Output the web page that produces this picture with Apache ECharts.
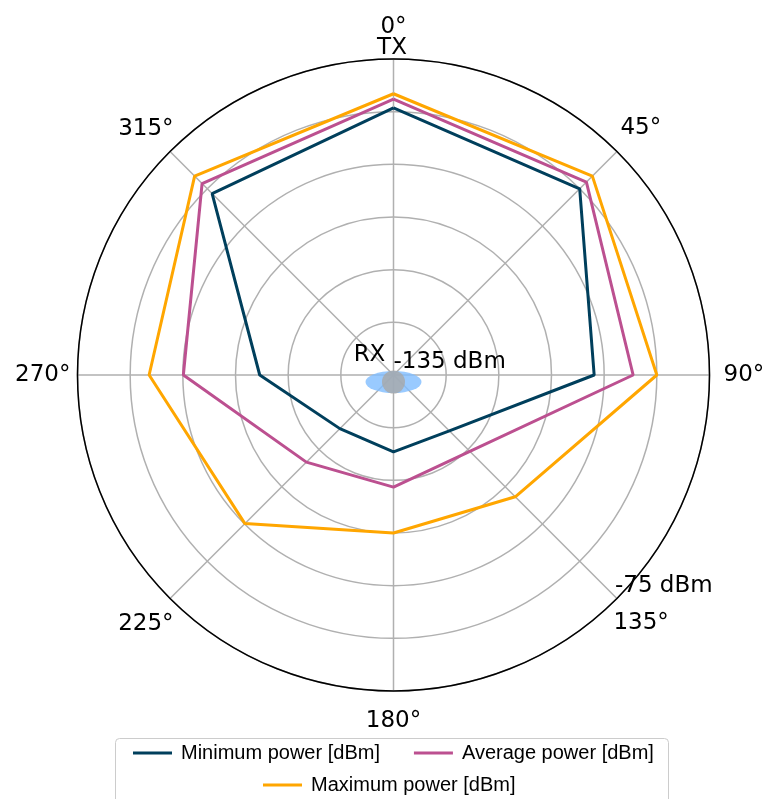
<!DOCTYPE html>
<html>
<head>
<meta charset="utf-8">
<script src="https://cdn.jsdelivr.net/npm/echarts@6/dist/echarts.min.js"></script>
<style>
    html, body { margin: 0; padding: 0; background: #fff; }
    #chart { width: 765px; height: 799px; }
</style>
</head>
<body>
<div id="chart"></div>
<script>
// Directions (degrees, clockwise from TX at the top)
var angles = [0, 45, 90, 135, 180, 225, 270, 315];
var angleTicks = ["0°", "45°", "90°", "135°", "180°", "225°", "270°", "315°"];

// Received power per direction [dBm]
var minPower = [-84.3, -85.0, -96.9, -120.0, -120.4, -120.6, -109.6, -86.3];
var avgPower = [-82.6, -83.2, -89.5, -114.5, -113.7, -111.6, -95.1, -83.6];
var maxPower = [-81.6, -81.6, -85.0, -102.3, -105.0, -95.1, -88.6, -81.6];

var seriesNames = ["Minimum power [dBm]", "Average power [dBm]", "Maximum power [dBm]"];
var seriesColors = ["#003f5c", "#bc5090", "#ffa600"];

// Radial scale
var radiusMin = -135;
var radiusMax = -75;
var radiusStep = 10;
var radiusLabels = ["-135 dBm", "-75 dBm"];

var tickFont = "DejaVu Sans";

/**
 * Turns one list of values into a closed polygon of [radius, angle] pairs.
 */
function closedRing(values) {
    var ring = angles.map(function (a, i) { return [values[i], a]; });
    ring.push([values[0], 360]);
    return ring;
}

// Extra padding to push each angle label out to where matplotlib put it
// (vertical padding only moves the text by half its size)
var labelPads = {
    0: [0, 0, 51, 0],
    45: [0, 0, 32, 7],
    90: [0, 0, 0, 19],
    135: [33, 0, 0, 0],
    180: [47, 0, 0, 0],
    225: [36, 0, 0, 0],
    270: [0, 12, 0, 0],
    315: [0, 0, 30, 0],
};
var rich = {};
angles.forEach(function (a) {
    rich["a" + a] = {
        fontFamily: tickFont,
        fontSize: 23,
        lineHeight: 23,
        color: "#000",
        padding: labelPads[a],
    };
});

var chart = echarts.init(document.getElementById("chart"), null, { renderer: "canvas" });

var lineSeries = [minPower, avgPower, maxPower].map(function (values, i) {
    return {
        name: seriesNames[i],
        type: "line",
        coordinateSystem: "polar",
        data: closedRing(values),
        symbol: "none",
        smooth: false,
        lineStyle: { color: seriesColors[i], width: 3 },
        itemStyle: { color: seriesColors[i] },
        z: 3,
    };
});

var legendText = {
    fontFamily: "Liberation Sans",
    fontSize: 20,
    lineHeight: 22,
    color: "#000",
    padding: [0, 0, 0, 4],
};

var options = {
    backgroundColor: "#fff",
    animation: false,
    polar: {
        center: [393.5, 375],
        radius: 316,
    },
    angleAxis: {
        type: "value",
        min: 0,
        max: 360,
        interval: 45,
        startAngle: 90,
        clockwise: true,
        z: 2,
        axisLine: { show: true, lineStyle: { color: "#000", width: 1.5 } },
        axisTick: { show: false },
        splitLine: { show: true, lineStyle: { color: "#b0b0b0", width: 1.5 } },
        axisLabel: {
            margin: -5,
            formatter: function (v) {
                var i = angles.indexOf(v);
                if (i < 0) return "";
                return "{a" + v + "|" + angleTicks[i] + "}";
            },
            rich: rich,
        },
    },
    radiusAxis: {
        type: "value",
        min: radiusMin,
        max: radiusMax,
        interval: radiusStep,
        axisLine: { show: false },
        axisTick: { show: false },
        axisLabel: { show: false },
        splitLine: { show: true, lineStyle: { color: "#b0b0b0", width: 1.5 } },
    },
    legend: [
        {
            data: seriesNames.slice(0, 2),
            left: 128,
            top: 737,
            icon: "rect",
            itemWidth: 39,
            itemHeight: 3,
            itemGap: 34,
            textStyle: legendText,
        },
        {
            data: seriesNames.slice(2),
            left: 258,
            top: 769,
            icon: "rect",
            itemWidth: 39,
            itemHeight: 3,
            textStyle: legendText,
        },
    ],
    series: lineSeries.concat([
        // RX marker at the centre
        {
            type: "scatter",
            coordinateSystem: "polar",
            silent: true,
            data: [[radiusMin, 0]],
            symbol: "circle",
            symbolSize: [56, 22],
            symbolOffset: [0, 7],
            itemStyle: { color: "#80bdff" },
            z: 4,
        },
        {
            type: "scatter",
            coordinateSystem: "polar",
            silent: true,
            data: [[radiusMin, 0]],
            symbol: "circle",
            symbolSize: 23,
            symbolOffset: [0, 7],
            itemStyle: { color: "#a8a8a8" },
            z: 5,
        },
    ]),
};

chart.setOption(options);

// Text annotations placed through the polar scale: TX, RX and the radial limits
var notes = [
    { text: "TX", at: [radiusMax, 0], dx: -1.5, dy: -11, align: "center" },
    { text: "RX", at: [radiusMin, 0], dx: -24, dy: -19.5, align: "center" },
    { text: radiusLabels[0], at: [radiusMin, 135], dx: 0, dy: -13, align: "left" },
    { text: radiusLabels[1], at: [radiusMax, 135], dx: -2, dy: -12, align: "left" },
];
var graphics = [
    {
        type: "rect",
        shape: { x: 115.5, y: 738.5, width: 553, height: 80, r: 4 },
        style: { fill: "none", stroke: "#cccccc", lineWidth: 1 },
        z: 1,
    },
];
notes.forEach(function (n) {
    var p = chart.convertToPixel({ seriesIndex: 0 }, n.at);
    graphics.push({
        type: "text",
        x: p[0] + n.dx,
        y: p[1] + n.dy,
        z: 10,
        style: {
            text: n.text,
            fontFamily: tickFont,
            fontSize: 23,
            fill: "#000",
            align: n.align,
            verticalAlign: "middle",
        },
    });
});
chart.setOption({ graphic: graphics });
</script>
</body>
</html>
